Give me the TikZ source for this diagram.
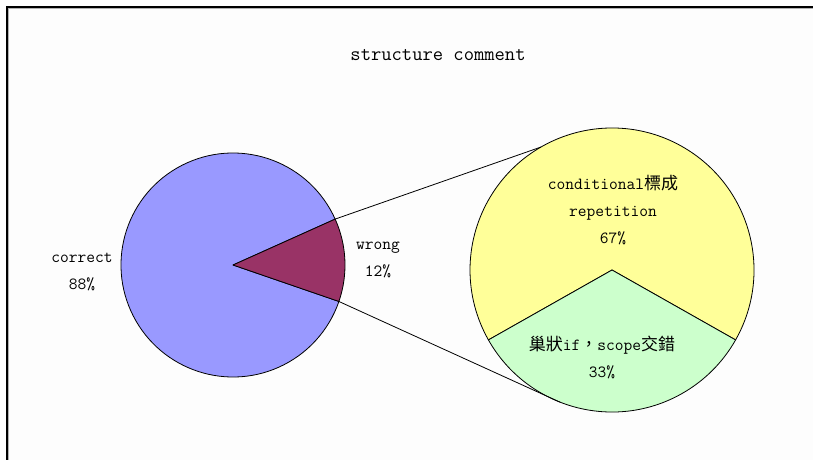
\documentclass[tikz,border=0pt]{standalone}
\usepackage{fontspec}
\newfontfamily\cjk{Noto Sans CJK TC}
\usetikzlibrary{calc}
\definecolor{pieblue}{HTML}{9999FF}
\definecolor{piemaroon}{HTML}{993366}
\definecolor{pieyellow}{HTML}{FFFF99}
\definecolor{piegreen}{HTML}{CCFFCC}
\definecolor{chartbg}{HTML}{FDFDFD}
\begin{document}
\begin{tikzpicture}[x=1pt,y=1pt,
  pieline/.style={draw=black,line width=0.8pt,line join=round},
  connector/.style={draw=black,line width=0.8pt},
  lbl/.style={align=center,inner sep=0pt,font=\ttfamily\fontsize{17}{27}\selectfont},
  ttl/.style={inner sep=0pt,font=\ttfamily\fontsize{20}{24}\selectfont}]
\useasboundingbox (0,0) rectangle (813,459);
% chart area with its frame, running off the right and bottom edges
\fill[white] (0,0) rectangle (813,459);
\fill[chartbg] (7,-10) rectangle (830,452);
\draw[gray!60,line width=0.8pt] (8.6,-10) -- (8.6,450.4) -- (830,450.4);
\draw[black,line width=1.6pt] (7,-10) -- (7,452) -- (830,452);

% centres of the two pies
\coordinate (L) at (233,194);
\coordinate (R) at (612,189);

% main pie
\draw[pieline,fill=pieblue] (L) -- ($(L)+(24.2:112)$) arc[start angle=24.2,end angle=341,radius=112] -- cycle;
\draw[pieline,fill=piemaroon] (L) -- ($(L)+(-19:112)$) arc[start angle=-19,end angle=24.2,radius=112] -- cycle;

% secondary pie
\draw[pieline,fill=pieyellow] (R) -- ($(R)+(330.5:142)$) arc[start angle=-29.5,end angle=209.5,radius=142] -- cycle;
\draw[pieline,fill=piegreen] (R) -- ($(R)+(209.5:142)$) arc[start angle=209.5,end angle=330.5,radius=142] -- cycle;

% connector end points
\coordinate (wtop) at ($(L)+(24.2:112)$);
\coordinate (wbot) at ($(L)+(-19:112)$);
\coordinate (stop) at ($(R)+(120:142)$);
\coordinate (sbot) at ($(R)+(248.5:142)$);
\draw[connector] (wtop) -- (stop);
\draw[connector] (wbot) -- (sbot);

% texts
\node[ttl] (title) at (438,404) {structure comment};
\node[lbl] (correct) at (82,187) {correct\\88\%};
\node[lbl] (wrong) at (378,199) {wrong\\12\%};
\node[lbl] (cond) at (613,249) {conditional{\cjk 標成}\\repetition\\67\%};
\node[lbl] (nest) at (602,102) {{\cjk 巢狀}if{\cjk ，}scope{\cjk 交錯}\\33\%};
\end{tikzpicture}
\end{document}
